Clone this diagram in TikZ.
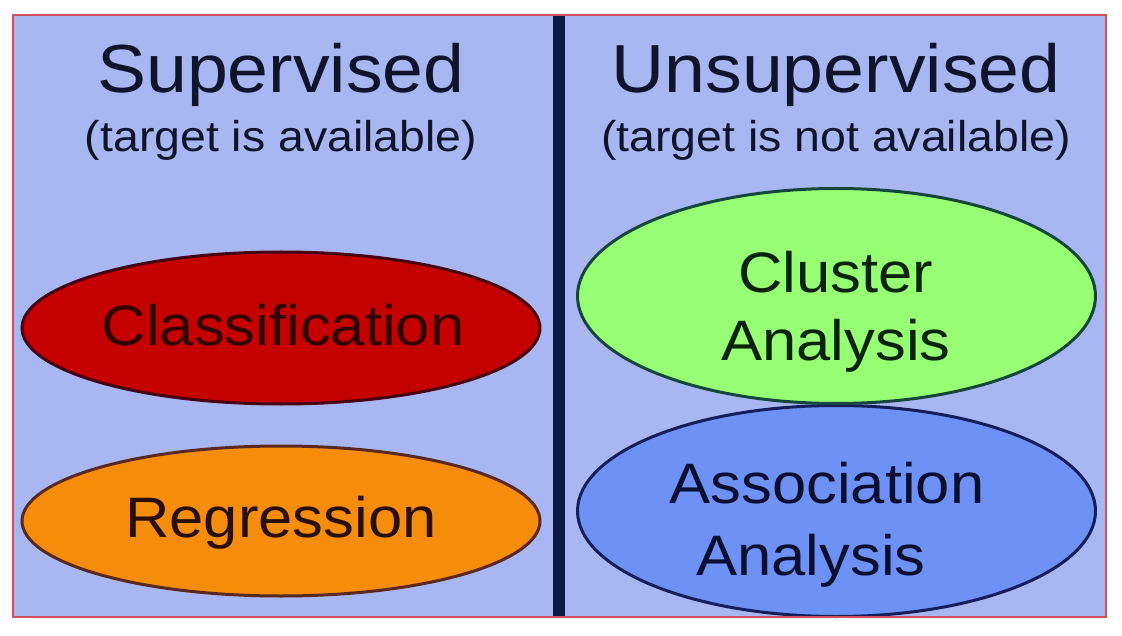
\documentclass[tikz,border=0pt]{standalone}
\usepackage{fontspec}
\setmainfont{Liberation Sans}
\usetikzlibrary{shapes.geometric}
\definecolor{bgblue}{RGB}{168,183,242}
\definecolor{frame}{RGB}{210,80,90}
\definecolor{divider}{RGB}{15,25,70}
\definecolor{titletext}{RGB}{15,20,45}
\definecolor{clsfill}{RGB}{196,0,0}
\definecolor{clsline}{RGB}{70,0,20}
\definecolor{clstext}{RGB}{50,0,0}
\definecolor{regfill}{RGB}{245,140,10}
\definecolor{regline}{RGB}{90,40,30}
\definecolor{regtext}{RGB}{40,15,10}
\definecolor{clufill}{RGB}{150,255,115}
\definecolor{clulline}{RGB}{20,70,60}
\definecolor{clutext}{RGB}{10,35,10}
\definecolor{assfill}{RGB}{110,145,245}
\definecolor{assline}{RGB}{20,30,90}
\definecolor{asstext}{RGB}{10,15,50}
\newcommand{\wide}[1]{\scalebox{1.08}[1]{#1}}
\tikzset{
  blob/.style={ellipse, draw, line width=3pt, inner sep=0pt, minimum width=518pt},
  titlefont/.style={font=\fontsize{68}{80}\selectfont, text=titletext, anchor=base, inner sep=0pt},
  subfont/.style={font=\fontsize{43}{50}\selectfont, text=titletext, anchor=base, inner sep=0pt},
  labfont/.style={font=\fontsize{57}{66}\selectfont, anchor=base, inner sep=0pt}
}
\begin{document}
\begin{tikzpicture}[x=1pt,y=-1pt]
\useasboundingbox (0,0) rectangle (1122,636);
\fill[white] (0,0) rectangle (1122,636);
\fill[bgblue] (13,15) rectangle (1106,617);
% ellipses
\node[blob, fill=clsfill, draw=clsline, minimum height=152pt] (cls) at (281,328) {};
\node[blob, fill=regfill, draw=regline, minimum height=150pt] (reg) at (281,521) {};
\node[blob, fill=assfill, draw=assline, minimum height=211pt] (ass) at (836.5,511) {};
\node[blob, fill=clufill, draw=clulline, minimum height=215pt] (clu) at (836.5,296) {};
% divider and frame
\coordinate (dtop) at (559,15);
\coordinate (dbot) at (559,617);
\draw[divider, line width=12pt] (dtop) -- (dbot);
\draw[frame, line width=1.5pt] (13,15) rectangle (1106,617);
% titles
\node[titlefont] (sup) at (281,93) {\wide{Supervised}};
\node[subfont] (supsub) at (281,152) {\wide{(target is available)}};
\node[titlefont] (unsup) at (836,93) {\wide{Unsupervised}};
\node[subfont] (unsupsub) at (836,152) {\wide{(target is not available)}};
% labels
\node[labfont, text=clstext] (clsl) at (283,345) {\wide{Classification}};
\node[labfont, text=regtext] (regl) at (281,537) {\wide{Regression}};
\node[labfont, text=clutext] (clul1) at (836,293) {\wide{Cluster}};
\node[labfont, text=clutext] (clul2) at (836,360) {\wide{Analysis}};
\node[labfont, text=asstext] (assl1) at (827,503) {\wide{Association}};
\node[labfont, text=asstext] (assl2) at (811,575) {\wide{Analysis}};
\end{tikzpicture}
\end{document}
